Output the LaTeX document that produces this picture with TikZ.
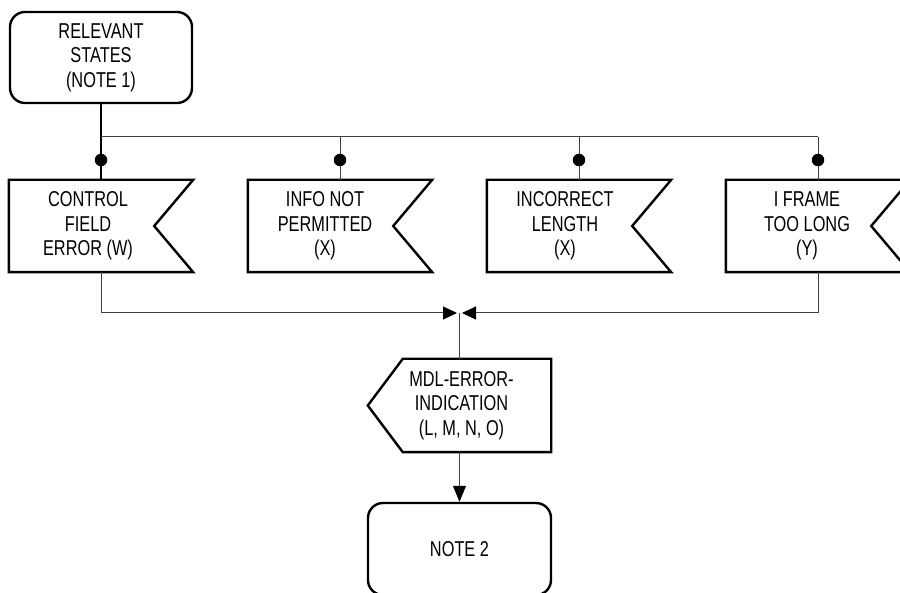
\documentclass[tikz,border=0pt]{standalone}
\usepackage{fontspec}
\setmainfont{Liberation Sans}[FakeStretch=0.76]
\usetikzlibrary{arrows.meta,calc}
\begin{document}
\begin{tikzpicture}[x=1pt,y=1pt,
  box/.style={draw=black, line width=2.4pt, rounded corners=15pt, minimum width=182pt, minimum height=91pt, inner sep=0pt, align=center, font=\fontsize{21.5}{24.5}\selectfont},
  frame/.style={draw=none, minimum width=184pt, minimum height=92pt, inner sep=0pt},
  lbl/.style={align=center, inner sep=0pt, font=\fontsize{21.5}{24.5}\selectfont},
  shapeline/.style={draw=black, line width=2.4pt, line join=miter},
  conn/.style={draw=black!75, line width=1pt},
  conn2/.style={draw=black, line width=2pt},
  dot/.style={circle, fill=black, inner sep=0pt, minimum size=12.5pt},
  tip/.style={-{Triangle[length=14pt,width=13pt,color=black]}}
]
\clip (0,0) rectangle (900,-593);
\fill[white] (0,0) rectangle (900,-593);
\node[box] (top) at (101,-57.5) {RELEVANT\\STATES\\(NOTE 1)};

\foreach \n/\x in {c1/101, c2/340, c3/579, c4/818} {
  \node[frame] (\n) at (\x,-226) {};
  \draw[shapeline] (\n.north west) -- (\n.north east) -- ([xshift=-39pt]\n.east) -- (\n.south east) -- (\n.south west) -- cycle;
  \coordinate (t\n) at (\x,-137);
}
\node[lbl] (c1t) at ([xshift=-13pt]c1.center) {CONTROL\\FIELD\\ERROR (W)};
\node[lbl] (c2t) at ([xshift=-15pt]c2.center) {INFO NOT\\PERMITTED\\(X)};
\node[lbl] (c3t) at ([xshift=-14pt]c3.center) {INCORRECT\\LENGTH\\(X)};
\node[lbl] (c4t) at ([xshift=-11pt]c4.center) {I FRAME\\TOO LONG\\(Y)};

% top connectors
\draw[conn2] (top.south) -- (tc1);
\draw[conn] (tc1) -- (tc4);
\draw[conn2] (tc1) -- (c1.north);
\draw[conn] (tc2) -- (c2.north);
\draw[conn] (tc3) -- (c3.north);
\draw[conn] (tc4) -- (c4.north);
\foreach \n/\x in {d1/101, d2/340, d3/579, d4/818} {
  \node[dot] (\n) at (\x,-160) {};
}

% MDL signal
\node[frame, minimum width=183pt, minimum height=93pt] (mdl) at (459.5,-405.5) {};
\draw[shapeline] ([xshift=35pt]mdl.north west) -- (mdl.north east) -- (mdl.south east) -- ([xshift=35pt]mdl.south west) -- (mdl.west) -- cycle;
\node[lbl] (mdlt) at ([xshift=2pt]mdl.center) {MDL-ERROR-\\INDICATION\\(L, M, N, O)};

\node[box, minimum width=183pt, minimum height=92pt] (note) at (459.5,-549) {NOTE 2};

% bottom connectors
\coordinate (jl) at (457,-313);
\coordinate (jr) at (462,-313);
\coordinate (j) at (459.5,-313);
\draw[conn, tip] (c1.south) |- (jl);
\draw[conn, tip] (c4.south) |- (jr);
\draw[conn] (j) -- (mdl.north);
\draw[conn, -{Triangle[length=16pt,width=13pt,color=black]}] (mdl.south) -- (note.north);
\end{tikzpicture}
\end{document}
